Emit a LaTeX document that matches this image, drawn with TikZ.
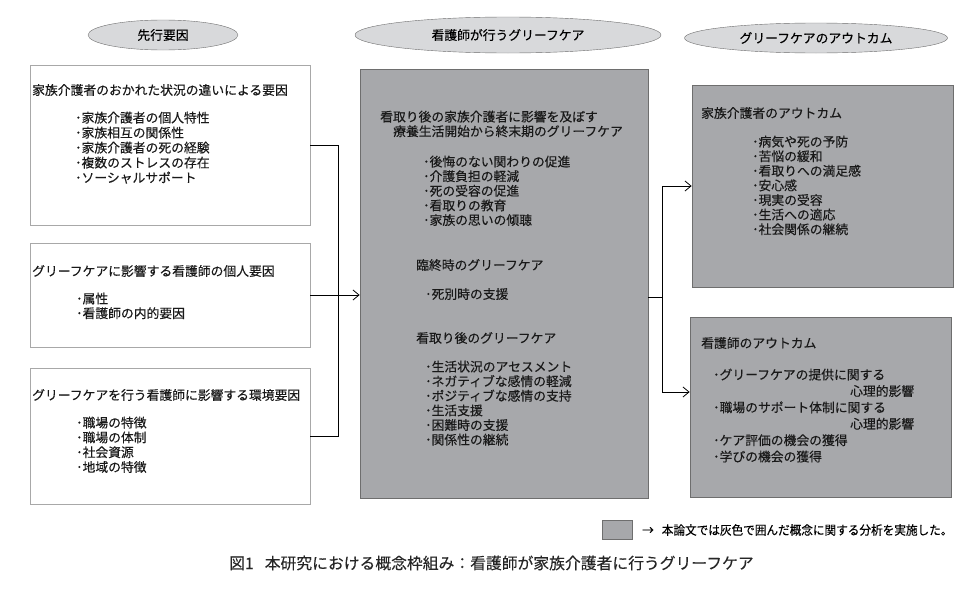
\documentclass[tikz,border=0pt]{standalone}
\usepackage{fontspec}
\setmainfont{Noto Sans CJK JP}[FakeBold=0.25]
\newfontfamily\notefont{Noto Sans CJK JP}[FakeStretch=0.93, FakeBold=0.2]
\usepackage{xcolor}
\usepackage{tikz}
\usetikzlibrary{arrows.meta, positioning, shapes.geometric}
\definecolor{conceptgray}{RGB}{167,168,171}
\definecolor{ovalgray}{RGB}{216,217,219}
\definecolor{edgegray}{RGB}{110,110,110}

\begin{document}
\begin{tikzpicture}[x=1pt, y=-1pt,
    heading/.style={ellipse, draw=edgegray, fill=ovalgray, inner sep=0pt, font=\fontsize{12.8}{15}\selectfont},
    factor/.style={rectangle, draw=edgegray!60, line width=0.7pt, inner sep=0pt},
    concept/.style={rectangle, draw=edgegray, fill=conceptgray, line width=0.8pt, inner sep=0pt},
    txt/.style={inner sep=0pt, align=left, font=\fontsize{12.8}{14.6}\selectfont, text=black!90},
    conn/.style={line width=0.8pt},
    arrow/.style={conn, -{Straight Barb[length=6pt, width=10pt]}}
]
    \useasboundingbox (0,0) rectangle (979,589);

    % Headings
    \node[heading, minimum width=150pt, minimum height=30pt] (antecedent) at (163,35) {先行要因};
    \node[heading, minimum width=306pt, minimum height=36pt] (carehead) at (508,35) {看護師が行うグリーフケア};
    \node[heading, minimum width=263pt, minimum height=30pt] (outhead) at (816,38) {グリーフケアのアウトカム};

    % Antecedent boxes
    \node[factor, minimum width=280pt, minimum height=160pt] (situation) at (170,145) {};
    \node[factor, minimum width=280pt, minimum height=104pt] (nursefactor) at (170,295) {};
    \node[factor, minimum width=280pt, minimum height=136pt] (environment) at (170,436) {};

    % Concept boxes (gray)
    \node[concept, minimum width=288pt, minimum height=429pt] (griefcare) at (504,283.5) {};
    \node[concept, minimum width=261pt, minimum height=202pt] (familyout) at (822.5,186) {};
    \node[concept, minimum width=261pt, minimum height=180pt] (nurseout) at (820.5,407) {};

    % Texts of antecedents
    \node[txt, anchor=west] (sittitle) at (32,90) {家族介護者のおかれた状況の違いによる要因};
    \node[txt, anchor=north west, font=\fontsize{12.8}{15}\selectfont] (sititems) at (75,111.5) {･家族介護者の個人特性\\･家族相互の関係性\\･家族介護者の死の経験\\･複数のストレスの存在\\･ソーシャルサポート};
    \node[txt, anchor=west] (nftitle) at (32,271) {グリーフケアに影響する看護師の個人要因};
    \node[txt, anchor=north west] (nfitems) at (76,292.5) {･属性\\･看護師の内的要因};
    \node[txt, anchor=west] (envtitle) at (32,395) {グリーフケアを行う看護師に影響する環境要因};
    \node[txt, anchor=north west, font=\fontsize{12.8}{14.8}\selectfont] (envitems) at (76,416.5) {･職場の特徴\\･職場の体制\\･社会資源\\･地域の特徴};

    % Texts of grief care
    \node[txt, anchor=north west] (gctitle) at (380,110.5) {看取り後の家族介護者に影響を及ぼす\\\hspace*{13pt}療養生活開始から終末期のグリーフケア};
    \node[txt, anchor=north west] (gcitems) at (423,155.5) {･後悔のない関わりの促進\\･介護負担の軽減\\･死の受容の促進\\･看取りの教育\\･家族の思いの傾聴};
    \node[txt, anchor=west] (dyingtitle) at (416,265) {臨終時のグリーフケア};
    \node[txt, anchor=west] (dyingitem) at (425,294) {･死別時の支援};
    \node[txt, anchor=west] (aftertitle) at (416,338) {看取り後のグリーフケア};
    \node[txt, anchor=north west] (afteritems) at (425,360.5) {･生活状況のアセスメント\\･ネガティブな感情の軽減\\･ポジティブな感情の支持\\･生活支援\\･困難時の支援\\･関係性の継続};

    % Texts of outcomes
    \node[txt, anchor=west] (fotitle) at (701,113) {家族介護者のアウトカム};
    \node[txt, anchor=north west] (foitems) at (752,135.5) {･病気や死の予防\\･苦悩の緩和\\･看取りへの満足感\\･安心感\\･現実の受容\\･生活への適応\\･社会関係の継続};
    \node[txt, anchor=west] (notitle) at (701,343) {看護師のアウトカム};
    \node[txt, anchor=north west, font=\fontsize{12.8}{16.4}\selectfont] (noitems) at (713,368.5) {･グリーフケアの提供に関する\\\hspace*{137pt}心理的影響\\･職場のサポート体制に関する\\\hspace*{137pt}心理的影響\\･ケア評価の機会の獲得\\･学びの機会の獲得};

    % Connectors
    \draw[conn] (situation.east) -- ++(28,0) |- (environment.east);
    \draw[arrow] (nursefactor.east) -- (nursefactor.east -| griefcare.west);
    \coordinate (fork) at (662,297);
    \draw[conn] (griefcare.east |- fork) -- (fork);
    \draw[arrow] (fork) |- (familyout.west);
    \draw[arrow] (fork) |- ([yshift=15pt]nurseout.west);

    % Legend and caption
    \node[concept, minimum width=30pt, minimum height=19pt] (legendbox) at (617,530) {};
    \node[inner sep=0pt, anchor=west, font=\notefont\fontsize{12.5}{14}\selectfont] (legendtext) at (642,530) {→\hspace{8pt}本論文では灰色で囲んだ概念に関する分析を実施した。};
    \node[inner sep=0pt, anchor=west, font=\fontsize{15.8}{18}\selectfont, text=black!85] (caption) at (229,563) {図1\hspace{11pt}本研究における概念枠組み：看護師が家族介護者に行うグリーフケア};
\end{tikzpicture}
\end{document}
